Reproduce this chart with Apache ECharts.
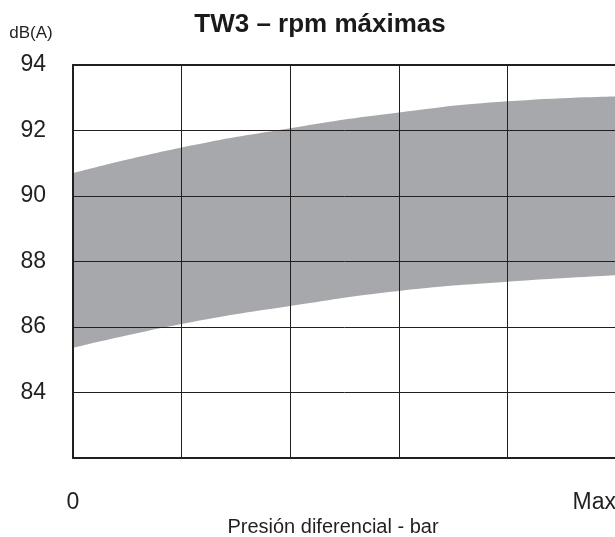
<!DOCTYPE html>
<html>
<head>
<meta charset="utf-8">
<style>
  html, body { margin: 0; padding: 0; background: #ffffff; }
  #chart { width: 615px; height: 537px; }
</style>
<script src="https://cdn.jsdelivr.net/npm/echarts@6/dist/echarts.min.js"></script>
</head>
<body>
<div id="chart"></div>
<script>
// Differential pressure steps, from 0 up to the maximum
var pressureSteps = [0, 1, 2, 3, 4, 5];
// Sound level envelope at maximum rpm, dB(A)
var levelUpper = [90.70, 91.48, 92.07, 92.55, 92.89, 93.04];
var levelLower = [85.36, 86.09, 86.64, 87.10, 87.38, 87.58];
// Axis text
var xTickText = { 0: '0', 5: 'Max' };
var yHiddenTick = 82;

var FONT = '"Liberation Sans", Arial, Helvetica, sans-serif';
var INK = '#231f20';
var BAND = '#a7a8ab';

function pairs(xs, ys) {
  return xs.map(function (x, i) { return [x, ys[i]]; });
}

var chart = echarts.init(document.getElementById('chart'), null, { renderer: 'canvas' });

chart.setOption({
  animation: false,
  backgroundColor: '#ffffff',
  grid: { left: 73, top: 65, right: -1, bottom: 79, containLabel: false, outerBoundsMode: 'none' },
  xAxis: [{
    type: 'value',
    min: 0,
    max: 5,
    interval: 1,
    z: 5,
    axisLine: { show: true, lineStyle: { color: INK, width: 2 } },
    axisTick: { show: false },
    splitLine: { show: true, lineStyle: { color: INK, width: 1 } },
    axisLabel: {
      margin: 33,
      color: INK,
      fontFamily: FONT,
      fontSize: 23,
      alignMaxLabel: 'right',
      formatter: function (v) { return xTickText[v] !== undefined ? xTickText[v] : ''; }
    }
  }, {
    // top frame edge
    type: 'value',
    position: 'top',
    min: 0,
    max: 5,
    z: 5,
    axisLine: { show: true, lineStyle: { color: INK, width: 2 } },
    axisTick: { show: false },
    axisLabel: { show: false },
    splitLine: { show: false }
  }],
  yAxis: {
    type: 'value',
    min: 82,
    max: 94,
    interval: 2,
    z: 5,
    axisLine: { show: true, lineStyle: { color: INK, width: 2 } },
    axisTick: { show: false },
    splitLine: { show: true, lineStyle: { color: INK, width: 1 } },
    axisLabel: {
      margin: 27,
      color: INK,
      fontFamily: FONT,
      fontSize: 23,
      formatter: function (v) { return v === yHiddenTick ? '' : String(v); }
    }
  },
  series: [{
    name: 'upper',
    type: 'line',
    smooth: true,
    symbol: 'none',
    z: 1,
    data: pairs(pressureSteps, levelUpper),
    lineStyle: { width: 0, color: BAND },
    areaStyle: { color: BAND, opacity: 1, origin: 'start' }
  }, {
    name: 'lower',
    type: 'line',
    smooth: true,
    symbol: 'none',
    z: 2,
    data: pairs(pressureSteps, levelLower),
    lineStyle: { width: 0, color: '#ffffff' },
    areaStyle: { color: '#ffffff', opacity: 1, origin: 'start' }
  }],
  graphic: [{
    type: 'text',
    x: 320,
    y: 25,
    style: {
      text: 'TW3 – rpm máximas',
      fontFamily: FONT,
      fontWeight: 'bold',
      fontSize: 26,
      fill: '#1a1a1a',
      textAlign: 'center',
      textVerticalAlign: 'middle'
    }
  }, {
    type: 'text',
    x: 31,
    y: 33,
    style: {
      text: 'dB(A)',
      fontFamily: FONT,
      fontSize: 17,
      fill: INK,
      textAlign: 'center',
      textVerticalAlign: 'middle'
    }
  }, {
    type: 'text',
    x: 333,
    y: 527,
    style: {
      text: 'Presión diferencial - bar',
      fontFamily: FONT,
      fontSize: 20,
      fill: INK,
      textAlign: 'center',
      textVerticalAlign: 'middle'
    }
  }]
});
</script>
</body>
</html>
